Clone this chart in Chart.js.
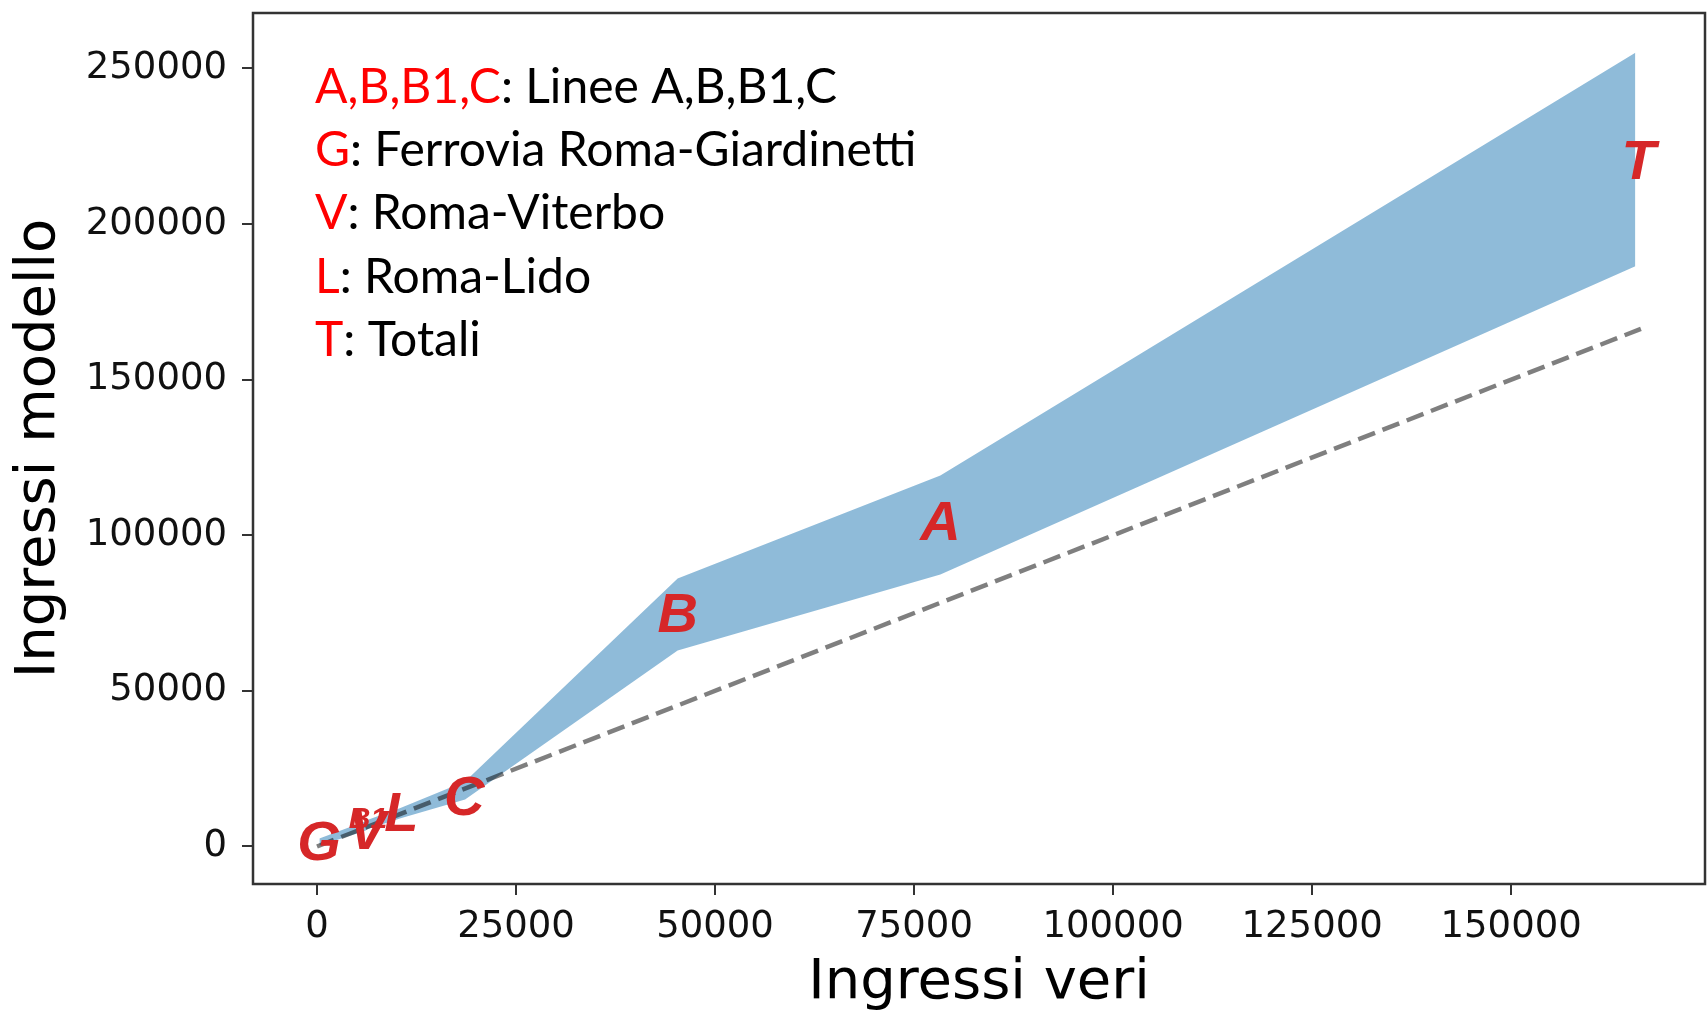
<!DOCTYPE html>
<html>
<head>
<meta charset="utf-8">
<script src="https://cdn.jsdelivr.net/npm/chart.js@4.4.1/dist/chart.umd.min.js"></script>
<style>
  body { margin: 0; background: #fff; }
</style>
</head>
<body>
<canvas id="myChart" width="1708" height="1018"></canvas>
<script>
// band of model estimates vs true entries (per line)
var xValues = [300, 6000, 6400, 10400, 18600, 45300, 78300, 165600];
var upperValues = [2600, 8000, 8600, 12300, 20900, 86100, 119200, 255000];
var lowerValues = [300, 5000, 5600, 9000, 15100, 63000, 87400, 186400];

// y = x reference line
var refX = [0, 166300];

// station labels
var labelNames = ["G", "V", "B1", "L", "C", "B", "A", "T"];
var labelX = [250, 6300, 6400, 10600, 18500, 45300, 78300, 166000];
var labelY = [700, 4300, 8600, 10000, 15000, 73900, 103500, 219500];
var labelSizes = [56, 56, 30, 56, 56, 56, 56, 56];

var xTicks = [0, 25000, 50000, 75000, 100000, 125000, 150000];
var yTicks = [0, 50000, 100000, 150000, 200000, 250000];

var legendKeys = ["A,B,B1,C", "G", "V", "L", "T"];
var legendTexts = [": Linee A,B,B1,C", ": Ferrovia Roma-Giardinetti", ": Roma-Viterbo", ": Roma-Lido", ": Totali"];

function points(xs, ys) {
  return xs.map(function (x, i) { return { x: x, y: ys[i] }; });
}

// frame, station labels and text legend
var extras = {
  id: "extras",
  afterDatasetsDraw: function (chart) {
    var ctx = chart.ctx;
    var xs = chart.scales.x, ys = chart.scales.y;
    ctx.save();
    ctx.fillStyle = "#d62728";
    ctx.textAlign = "center";
    ctx.textBaseline = "middle";
    labelNames.forEach(function (name, i) {
      ctx.font = "italic bold " + labelSizes[i] + "px 'Liberation Sans', Arial, sans-serif";
      ctx.fillText(name, xs.getPixelForValue(labelX[i]), ys.getPixelForValue(labelY[i]));
    });
    ctx.restore();
  },
  afterDraw: function (chart) {
    var ctx = chart.ctx;
    var a = chart.chartArea;
    ctx.save();
    ctx.strokeStyle = "#333";
    ctx.lineWidth = 2.5;
    ctx.strokeRect(a.left, a.top, a.right - a.left, a.bottom - a.top);

    ctx.font = "48px Lato, sans-serif";
    ctx.textAlign = "left";
    ctx.textBaseline = "alphabetic";
    var x0 = a.left + 62;
    legendKeys.forEach(function (key, i) {
      var y = a.top + 90 + i * 63.2;
      ctx.fillStyle = "#ff0000";
      ctx.fillText(key, x0, y);
      var w = ctx.measureText(key).width;
      ctx.fillStyle = "#000";
      ctx.fillText(legendTexts[i], x0 + w, y);
    });
    ctx.restore();
  }
};

var ctx = document.getElementById("myChart").getContext("2d");
var myChart = new Chart(ctx, {
  type: "line",
  data: {
    datasets: [
      {
        label: "upper",
        data: points(xValues, upperValues),
        borderWidth: 0,
        pointRadius: 0,
        backgroundColor: "rgba(31, 119, 180, 0.5)",
        fill: 1,
        order: 2
      },
      {
        label: "lower",
        data: points(xValues, lowerValues),
        borderWidth: 0,
        pointRadius: 0,
        fill: false,
        order: 2
      },
      {
        label: "y = x",
        data: points(refX, refX),
        borderColor: "rgba(0, 0, 0, 0.5)",
        borderWidth: 4.5,
        borderDash: [18, 8],
        pointRadius: 0,
        fill: false,
        order: 1
      }
    ]
  },
  options: {
    responsive: false,
    animation: false,
    layout: { padding: { top: 13, right: 3, left: 0, bottom: 0 } },
    plugins: {
      legend: { display: false },
      tooltip: { enabled: false }
    },
    scales: {
      x: {
        type: "linear",
        min: -8040,
        max: 174350,
        afterBuildTicks: function (scale) {
          scale.ticks = xTicks.map(function (v) { return { value: v }; });
        },
        afterFit: function (scale) {
          scale.height = 134;
          scale.paddingLeft = 0;
          scale.paddingRight = 0;
        },
        grid: { drawOnChartArea: false, drawTicks: true, tickLength: 11, color: "#333", lineWidth: 2 },
        border: { display: false },
        ticks: {
          color: "#111",
          padding: 10,
          maxRotation: 0,
          autoSkip: false,
          font: { family: "'DejaVu Sans'", size: 37 },
          callback: function (v) { return String(v); }
        },
        title: {
          display: true,
          text: "Ingressi veri",
          color: "#000",
          font: { family: "'DejaVu Sans'", size: 56, lineHeight: 1.1 },
          padding: 4
        }
      },
      y: {
        type: "linear",
        min: -12050,
        max: 267800,
        afterBuildTicks: function (scale) {
          scale.ticks = yTicks.map(function (v) { return { value: v }; });
        },
        afterFit: function (scale) {
          scale.width = 253;
          scale.paddingTop = 0;
          scale.paddingBottom = 0;
        },
        grid: { drawOnChartArea: false, drawTicks: true, tickLength: 11, color: "#333", lineWidth: 2 },
        border: { display: false },
        ticks: {
          color: "#111",
          padding: 15,
          autoSkip: false,
          font: { family: "'DejaVu Sans'", size: 37 },
          callback: function (v) { return String(v); }
        },
        title: {
          display: true,
          text: "Ingressi modello",
          color: "#000",
          font: { family: "'DejaVu Sans'", size: 56, lineHeight: 1.1 },
          padding: 9
        }
      }
    }
  },
  plugins: [extras]
});
</script>
</body>
</html>
